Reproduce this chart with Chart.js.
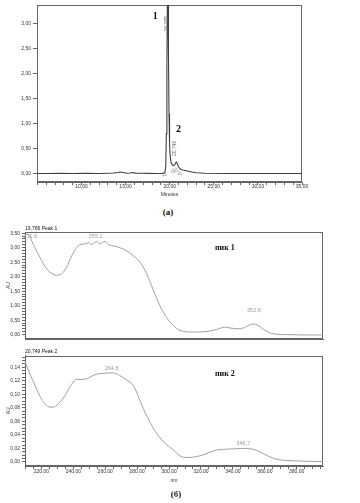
<!DOCTYPE html>
<html>
<head>
<meta charset="utf-8">
<script src="https://cdn.jsdelivr.net/npm/chart.js@4/dist/chart.umd.min.js"></script>
<style>
  html, body { margin: 0; padding: 0; background: #fff; }
  #page { position: relative; width: 360px; height: 503px; overflow: hidden; }
  canvas { position: absolute; left: 0; }
  .cap { position: absolute; font: bold 9px "Liberation Serif", serif; color: #111;
         transform: translate(-50%, -50%); white-space: nowrap; }
</style>
</head>
<body>
<div id="page">
  <canvas id="chromChart" width="360" height="200" style="top:0"></canvas>
  <div class="cap" style="left:168px; top:212px">(a)</div>
  <canvas id="peak1Chart" width="360" height="124" style="top:220px"></canvas>
  <canvas id="peak2Chart" width="360" height="159" style="top:344px"></canvas>
  <div class="cap" style="left:176px; top:494px">(б)</div>
</div>
<script>
// ============================================
// DATA
// ============================================

// (a) chromatogram: retention time (min) / absorbance (AU)
const chromTime = [4.95, 6.0, 7.5, 9.0, 10.5, 12.0, 13.0, 13.6, 14.1, 14.4,
                   14.7, 15.1, 15.5, 15.8, 16.1, 16.8, 17.5, 18.5, 19.2, 19.45,
                   19.55, 19.62, 19.68, 19.73, 19.768, 19.81, 19.86, 19.92, 19.98, 20.05,
                   20.15, 20.3, 20.45, 20.6, 20.74, 20.88, 21.0, 21.2, 21.5, 22.0,
                   22.5, 23.0, 24.0, 26.0, 28.0, 30.0, 32.0, 35.0];
const chromAu = [0.0, 0.0, 0.005, 0.0, 0.005, 0.0, 0.005, 0.01, 0.02, 0.03,
                 0.02, 0.005, 0.01, 0.02, 0.008, 0.005, 0.003, 0.0, 0.0, 0.02,
                 0.15, 0.8, 2.2, 3.4, 3.75, 3.4, 2.3, 1.2, 0.6, 0.35,
                 0.22, 0.17, 0.16, 0.19, 0.23, 0.19, 0.13, 0.09, 0.07, 0.05,
                 0.03, 0.015, 0.005, 0.0, 0.0, 0.0, 0.0, 0.0];

// integration marks on the baseline
const markTime = [19.43, 20.39, 20.73, 21.14];
const markAu = [-0.02, 0.05, 0.07, 0.0];

// (б) UV spectrum of peak 1: wavelength (nm) / AU
const peak1Nm = [209.7, 211.6, 214.9, 219.1, 223.3, 227.4, 229.6, 232.7, 235.8, 239.0,
                 242.1, 244.2, 247.3, 249.4, 251.5, 254.6, 256.7, 259.8, 261.9, 266.1,
                 269.2, 273.4, 277.6, 281.8, 286.0, 290.1, 294.3, 298.5, 302.6, 306.8,
                 315.2, 323.5, 329.8, 335.0, 338.1, 344.4, 348.6, 352.6, 355.9, 360.1,
                 365.3, 373.7, 385.0, 396.5];
const peak1Au = [3.44, 3.47, 3.11, 2.66, 2.27, 2.08, 2.05, 2.10, 2.33, 2.72,
                 3.00, 3.11, 3.13, 3.17, 3.11, 3.22, 3.13, 3.22, 3.11, 3.05,
                 3.00, 2.89, 2.72, 2.50, 2.10, 1.54, 0.99, 0.59, 0.32, 0.15,
                 0.09, 0.11, 0.18, 0.26, 0.23, 0.20, 0.28, 0.37, 0.32, 0.15,
                 0.03, 0.0, -0.01, -0.01];

// (б) UV spectrum of peak 2
const peak2Nm = [209.7, 212.8, 216.0, 219.1, 222.2, 225.4, 227.4, 230.6, 234.8, 237.9,
                 242.1, 246.2, 249.4, 253.6, 258.8, 264.6, 268.2, 273.4, 277.6, 283.8,
                 290.1, 296.4, 302.6, 306.8, 311.0, 319.3, 329.8, 338.1, 346.7, 353.8,
                 361.1, 366.3, 379.9, 396.5];
const peak2Au = [0.148, 0.130, 0.113, 0.097, 0.086, 0.081, 0.081, 0.086, 0.098, 0.111,
                 0.122, 0.122, 0.124, 0.129, 0.131, 0.1315, 0.129, 0.121, 0.113, 0.079,
                 0.050, 0.030, 0.018, 0.009, 0.0065, 0.009, 0.0175, 0.019, 0.020, 0.018,
                 0.010, 0.0045, 0.0015, 0.0005];

// labelled tick values
const minuteLabels = [10, 15, 20, 25, 30, 35];
const chromAuLabels = [0, 0.5, 1, 1.5, 2, 2.5, 3];
const peak1AuLabels = [0, 0.5, 1, 1.5, 2, 2.5, 3, 3.5];
const peak2AuLabels = [0, 0.02, 0.04, 0.06, 0.08, 0.1, 0.12, 0.14];
const nmLabels = [220, 240, 260, 280, 300, 320, 340, 360, 380];

// ============================================
// HELPERS
// ============================================
Chart.defaults.font.family = '"Liberation Sans", Arial, sans-serif';
Chart.defaults.color = '#333';

function tickList(from, to, step) {
    const out = [];
    const n = Math.round((to - from) / step);
    for (let i = 0; i <= n; i++) out.push(+(from + i * step).toFixed(4));
    return out;
}

function fmt(v) {
    return v.toFixed(2).replace('.', ',');
}

function toPoints(xs, ys) {
    return xs.map((x, i) => ({ x: x, y: ys[i] }));
}

// linear axis with fixed tick list, labels only on the major values
function axis(min, max, ticks, labels, extra) {
    return Object.assign({
        type: 'linear',
        min: min,
        max: max,
        afterBuildTicks: (s) => { s.ticks = ticks.map(v => ({ value: v })); },
        ticks: {
            autoSkip: false,
            maxRotation: 0,
            font: { size: 5, lineHeight: 1.2 },
            color: '#333',
            callback: (v) => labels.includes(v) ? fmt(v) : ''
        },
        grid: { drawOnChartArea: false, tickLength: 3, color: '#666' },
        border: { color: '#666', width: 1 }
    }, extra || {});
}

// box round the plot area
const framePlugin = {
    id: 'frame',
    beforeDatasetsDraw(chart) {
        const { ctx, chartArea: a } = chart;
        ctx.save();
        ctx.strokeStyle = '#666';
        ctx.lineWidth = 1;
        ctx.strokeRect(Math.round(a.left) + 0.5, Math.round(a.top) + 0.5,
                       Math.round(a.right - a.left) - 1, Math.round(a.bottom - a.top) - 1);
        ctx.restore();
    }
};

// peak labels placed through the chart scales
const textPlugin = {
    id: 'peakText',
    afterDatasetsDraw(chart, args, opts) {
        const { ctx, scales: { x, y } } = chart;
        (opts.items || []).forEach(it => {
            ctx.save();
            ctx.font = it.font || '5.5px "Liberation Sans"';
            ctx.fillStyle = it.color || '#9a9a9a';
            ctx.textAlign = 'center';
            ctx.textBaseline = 'middle';
            ctx.translate(x.getPixelForValue(it.x), y.getPixelForValue(it.y));
            if (it.rotate) ctx.rotate(-Math.PI / 2);
            ctx.fillText(it.text, 0, 0);
            ctx.restore();
        });
    }
};

const boldSerif = 'bold 10px "Liberation Serif"';
const smallGrey = '5px "Liberation Sans"';

// ============================================
// (a) CHROMATOGRAM
// ============================================
new Chart(document.getElementById('chromChart'), {
    type: 'line',
    data: {
        datasets: [{
            data: toPoints(chromTime, chromAu),
            borderColor: '#404040',
            borderWidth: 1.1,
            pointRadius: 0,
            tension: 0
        }, {
            data: toPoints(markTime, markAu),
            showLine: false,
            pointStyle: 'triangle',
            pointRadius: 2.2,
            borderColor: '#aaa',
            borderWidth: 0.8,
            backgroundColor: 'rgba(255,255,255,0)'
        }]
    },
    plugins: [framePlugin, textPlugin],
    options: {
        responsive: false,
        animation: false,
        events: [],
        layout: { padding: { left: 0, right: 58, top: 4, bottom: 0 } },
        plugins: {
            legend: { display: false },
            tooltip: { enabled: false },
            peakText: {
                items: [
                    { text: '1', x: 18.37, y: 3.16, font: boldSerif, color: '#111' },
                    { text: '19,768', x: 19.62, y: 3.0, rotate: true, font: smallGrey, color: '#666' },
                    { text: '2', x: 20.99, y: 0.885, font: boldSerif, color: '#111' },
                    { text: '20,740', x: 20.6, y: 0.505, rotate: true, font: smallGrey, color: '#666' }
                ]
            }
        },
        scales: {
            x: axis(4.95, 35, tickList(5, 35, 1), minuteLabels, {
                afterFit: (s) => { s.height = 18; },
                title: { display: true, text: 'Minutes', font: { size: 5, lineHeight: 1.2 },
                         color: '#333', padding: { top: 0, bottom: 2 } }
            }),
            y: axis(-0.17, 3.38, chromAuLabels, chromAuLabels, {
                afterFit: (s) => { s.width = 37; }
            })
        }
    }
});
// tick label offsets for the chromatogram
(function () {
    const c = Chart.getChart('chromChart');
    c.options.scales.x.ticks.padding = -1;
    c.options.scales.y.grid.tickLength = 4;
    c.options.scales.y.ticks.padding = 2;
    c.update('none');
})();

// ============================================
// (б) SPECTRUM, PEAK 1
// ============================================
new Chart(document.getElementById('peak1Chart'), {
    type: 'line',
    data: {
        datasets: [{
            data: toPoints(peak1Nm, peak1Au),
            borderColor: '#a0a0a0',
            borderWidth: 1,
            pointRadius: 0,
            cubicInterpolationMode: 'monotone'
        }]
    },
    plugins: [framePlugin, textPlugin],
    options: {
        responsive: false,
        animation: false,
        events: [],
        layout: { padding: { left: 0, right: 37, top: 0, bottom: 0 } },
        plugins: {
            legend: { display: false },
            tooltip: { enabled: false },
            title: {
                display: true, text: '19,766 Peak 1', align: 'start', fullSize: false,
                color: '#111', font: { size: 5, weight: 'normal', lineHeight: 1.2 },
                padding: { top: 5.3, bottom: 1 }
            },
            peakText: {
                items: [
                    { text: '211,6', x: 213.0, y: 3.39 },
                    { text: '255,2', x: 254.0, y: 3.39 },
                    { text: '352,6', x: 353.2, y: 0.82 },
                    { text: 'пик 1', x: 335.0, y: 3.0, font: 'bold 8px "Liberation Serif"', color: '#111' }
                ]
            }
        },
        scales: {
            x: {
                type: 'linear', min: 209.7, max: 396.5,
                ticks: { display: false },
                grid: { display: false },
                border: { color: '#666', width: 1 },
                afterFit: (s) => { s.height = 2; }
            },
            y: axis(-0.15, 3.53, tickList(0, 3.5, 0.1), peak1AuLabels, {
                afterFit: (s) => { s.width = 25; },
                title: { display: true, text: 'AU', font: { size: 5, lineHeight: 1.2 },
                         color: '#333', padding: { top: 6, bottom: 0 } }
            })
        }
    }
});
(function () {
    const c = Chart.getChart('peak1Chart');
    c.options.scales.y.ticks.padding = 2;
    c.update('none');
})();

// ============================================
// (б) SPECTRUM, PEAK 2
// ============================================
new Chart(document.getElementById('peak2Chart'), {
    type: 'line',
    data: {
        datasets: [{
            data: toPoints(peak2Nm, peak2Au),
            borderColor: '#a0a0a0',
            borderWidth: 1,
            pointRadius: 0,
            cubicInterpolationMode: 'monotone'
        }]
    },
    plugins: [framePlugin, textPlugin],
    options: {
        responsive: false,
        animation: false,
        events: [],
        layout: { padding: { left: 0, right: 37, top: 0, bottom: 18 } },
        plugins: {
            legend: { display: false },
            tooltip: { enabled: false },
            title: {
                display: true, text: '20,749 Peak 2', align: 'start', fullSize: false,
                color: '#111', font: { size: 5, weight: 'normal', lineHeight: 1.2 },
                padding: { top: 4.7, bottom: 1 }
            },
            peakText: {
                items: [
                    { text: '264,6', x: 264.0, y: 0.138 },
                    { text: '346,7', x: 346.5, y: 0.0275 },
                    { text: 'пик 2', x: 335.0, y: 0.130, font: 'bold 8px "Liberation Serif"', color: '#111' }
                ]
            }
        },
        scales: {
            x: axis(209.7, 396.5, tickList(210, 395, 5), nmLabels, {
                afterFit: (s) => { s.height = 19; },
                title: { display: true, text: 'nm', font: { size: 5, lineHeight: 1.2 },
                         color: '#333', padding: { top: 0, bottom: 1 } }
            }),
            y: axis(-0.006, 0.157, tickList(0, 0.155, 0.005), peak2AuLabels, {
                afterFit: (s) => { s.width = 25; },
                title: { display: true, text: 'AU', font: { size: 5, lineHeight: 1.2 },
                         color: '#333', padding: { top: 6, bottom: 0 } }
            })
        }
    }
});
(function () {
    const c = Chart.getChart('peak2Chart');
    c.options.scales.x.ticks.padding = 0;
    c.options.scales.y.ticks.padding = 2;
    c.update('none');
})();
</script>
</body>
</html>
